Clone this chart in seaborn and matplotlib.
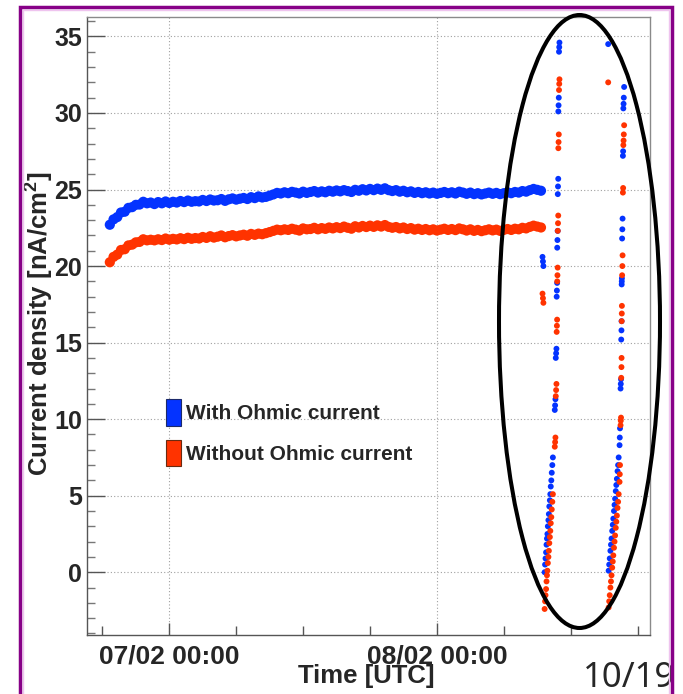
import numpy as np
import pandas as pd
import matplotlib
matplotlib.use("Agg")
import matplotlib.pyplot as plt
import matplotlib.dates as mdates
from matplotlib.ticker import MultipleLocator
from matplotlib.patches import Ellipse, Patch
from matplotlib.lines import Line2D
import seaborn as sns

# ---------------------------------------------------------------- data
SERIES = ["With Ohmic current", "Without Ohmic current"]
COLORS = ["#0433ff", "#ff3300"]
T0 = pd.Timestamp("2016-02-07 00:00")

# steady operation, one reading every 20 minutes from 06/02 18:40
steady_with = [
    22.70, 23.05, 23.20, 23.50, 23.55, 23.80, 23.85, 24.00, 24.02, 24.20, 24.10, 24.15,
    24.05, 24.18, 24.10, 24.22, 24.12, 24.20, 24.15, 24.25, 24.18, 24.28, 24.20, 24.24,
    24.22, 24.32, 24.25, 24.35, 24.28, 24.30, 24.38, 24.26, 24.36, 24.42, 24.34, 24.40,
    24.45, 24.38, 24.50, 24.44, 24.55, 24.48, 24.52, 24.60, 24.68, 24.78, 24.74, 24.82,
    24.76, 24.85, 24.80, 24.74, 24.86, 24.78, 24.84, 24.90, 24.80, 24.88, 24.82, 24.92,
    24.86, 24.94, 24.88, 24.96, 24.90, 24.84, 24.98, 24.92, 25.02, 24.94, 25.04, 24.96,
    25.06, 24.98, 25.08, 24.96, 24.90, 24.96, 24.86, 24.92, 24.82, 24.88, 24.78, 24.84,
    24.76, 24.82, 24.74, 24.80, 24.72, 24.78, 24.84, 24.76, 24.82, 24.74, 24.86, 24.80,
    24.72, 24.80, 24.70, 24.76, 24.68, 24.74, 24.80, 24.72, 24.78, 24.70, 24.76, 24.82,
    24.76, 24.84, 24.80, 24.90, 24.86, 24.96, 25.04, 24.98, 24.92,
]
steady_without = [
    20.25, 20.60, 20.75, 21.05, 21.10, 21.35, 21.40, 21.55, 21.58, 21.75, 21.68, 21.72,
    21.68, 21.75, 21.70, 21.80, 21.72, 21.78, 21.74, 21.82, 21.76, 21.85, 21.78, 21.83,
    21.80, 21.90, 21.84, 21.95, 21.86, 21.92, 22.00, 21.88, 21.96, 22.02, 21.94, 22.00,
    22.05, 21.98, 22.10, 22.04, 22.12, 22.08, 22.15, 22.22, 22.30, 22.38, 22.34, 22.40,
    22.36, 22.44, 22.38, 22.32, 22.46, 22.40, 22.42, 22.50, 22.40, 22.48, 22.43, 22.52,
    22.46, 22.54, 22.48, 22.58, 22.50, 22.44, 22.60, 22.52, 22.62, 22.55, 22.64, 22.56,
    22.66, 22.58, 22.68, 22.56, 22.50, 22.55, 22.46, 22.52, 22.42, 22.48, 22.38, 22.44,
    22.36, 22.42, 22.34, 22.40, 22.32, 22.38, 22.44, 22.36, 22.42, 22.35, 22.46, 22.40,
    22.32, 22.40, 22.30, 22.36, 22.28, 22.34, 22.40, 22.33, 22.38, 22.30, 22.36, 22.42,
    22.36, 22.44, 22.40, 22.50, 22.46, 22.56, 22.64, 22.58, 22.52,
]

# trip and high-voltage ramps (hours after 07/02 00:00)
trip_hours = [33.47, 33.51, 33.55]
trip_with = [20.6, 20.3, 20.0]
trip_without = [18.2, 17.9, 17.6]

ramp1_hours = [33.66, 33.70, 33.74, 33.79, 33.83, 33.87, 33.91, 33.95, 34.00,
               34.04, 34.08, 34.13, 34.17, 34.21, 34.26, 34.30, 34.35, 34.40,
               34.57, 34.60, 34.63, 34.66, 34.69, 34.72, 34.74, 34.76, 34.78,
               34.79, 34.81, 34.83, 34.84, 34.86, 34.88, 34.89, 34.91, 34.93,
               34.95, 34.97, 34.99]
ramp1_with = [0.0, 0.5, 0.9, 1.3, 1.8, 2.2, 2.5, 3.0, 3.4,
              3.8, 4.3, 4.7, 5.1, 5.6, 6.0, 6.5, 7.0, 7.5,
              10.6, 10.9, 11.3, 14.0, 14.3, 14.6, 18.0, 18.4, 18.9,
              21.2, 21.7, 22.3, 24.7, 25.2, 25.7, 30.1, 30.5, 31.0,
              34.0, 34.3, 34.6]
ramp1_without = [-2.4, -1.9, -1.5, -1.1, -0.6, -0.2, 0.1, 0.6, 1.0,
                 1.4, 1.9, 2.3, 2.7, 3.2, 3.6, 4.1, 4.6, 5.1,
                 8.2, 8.5, 8.8, 11.5, 11.9, 12.3, 15.7, 16.1, 16.5,
                 19.0, 19.4, 19.9, 22.3, 22.8, 23.3, 27.7, 28.1, 28.6,
                 31.5, 31.9, 32.2]

ramp2_hours = [39.36, 39.40, 39.45, 39.50, 39.56, 39.61, 39.66, 39.72, 39.77, 39.82,
               39.88, 39.93, 39.98, 40.04, 40.09, 40.14, 40.20, 40.25, 40.30,
               40.38, 40.40, 40.42, 40.47, 40.49, 40.51, 40.53, 40.55, 40.56,
               40.57, 40.58, 40.59, 40.61, 40.63, 40.65, 40.68, 40.70,
               40.72, 40.74, 40.76, 40.79]
ramp2_with = [34.5, 0.1, 0.5, 0.9, 1.4, 1.8, 2.2, 2.7, 3.1, 3.5,
              4.0, 4.4, 4.8, 5.3, 5.7, 6.1, 6.6, 7.0, 7.5,
              8.3, 8.8, 9.4, 12.0, 12.3, 12.6, 15.2, 15.8, 16.4,
              18.8, 19.0, 19.2, 21.8, 22.4, 23.1, 27.2, 27.5,
              30.3, 30.6, 31.0, 31.7]
ramp2_without = [32.0, -2.3, -1.9, -1.5, -1.0, -0.6, -0.2, 0.3, 0.7, 1.1,
                 1.6, 2.0, 2.4, 2.9, 3.3, 3.7, 4.2, 4.6, 5.1,
                 5.9, 6.4, 7.0, 9.6, 9.9, 10.1, 12.7, 13.4, 14.0,
                 16.4, 16.9, 17.4, 19.4, 20.0, 20.7, 24.8, 25.1,
                 27.9, 28.2, 28.6, 29.2]

X_TICK_FMT = "%d/%m %H:%M"
X_LABEL = "Time [UTC]"
Y_LABEL = "Current density [nA/cm$^{2}$]"
PAGE = "10/19"


def frame(times, with_vals, without_vals):
    a = pd.DataFrame({"time": times, "density": with_vals, "series": SERIES[0]})
    b = pd.DataFrame({"time": times, "density": without_vals, "series": SERIES[1]})
    return pd.concat([a, b], ignore_index=True)


steady_time = pd.date_range("2016-02-06 18:40", periods=len(steady_with), freq="20min")
steady = frame(steady_time, steady_with, steady_without)

tr_hours = trip_hours + ramp1_hours + ramp2_hours
tr_with = trip_with + ramp1_with + ramp2_with
tr_without = trip_without + ramp1_without + ramp2_without
tr_time = T0 + pd.to_timedelta(tr_hours, unit="h")
transient = frame(tr_time, tr_with, tr_without)

# ---------------------------------------------------------------- style
sns.set_style("white")
plt.rcParams["font.family"] = ["Liberation Sans", "DejaVu Sans"]
plt.rcParams["font.weight"] = "bold"
plt.rcParams["mathtext.fontset"] = "custom"
plt.rcParams["mathtext.rm"] = "Liberation Sans:bold"
plt.rcParams["mathtext.it"] = "Liberation Sans:bold"
plt.rcParams["mathtext.bf"] = "Liberation Sans:bold"

W, H = 683, 694
fig = plt.figure(figsize=(W / 100, H / 100), dpi=100)
fig.patch.set_facecolor("white")
ax = fig.add_axes([87 / W, 1 - 635 / H, (650 - 87) / W, (635 - 17) / H])

palette = dict(zip(SERIES, COLORS))
sns.scatterplot(data=steady, x="time", y="density", hue="series", hue_order=SERIES,
                palette=palette, s=54, linewidth=0, legend=False, ax=ax, zorder=3)
sns.scatterplot(data=transient, x="time", y="density", hue="series", hue_order=SERIES,
                palette=palette, s=18, linewidth=0, legend=False, ax=ax, zorder=3)

ax.set_xlim(T0 + pd.Timedelta(hours=-7.38), T0 + pd.Timedelta(hours=43.11))
ax.set_ylim(-4.10, 36.27)

ax.xaxis.set_major_locator(mdates.HourLocator(byhour=[0]))
ax.xaxis.set_minor_locator(mdates.HourLocator(byhour=[0, 6, 12, 18]))
ax.xaxis.set_major_formatter(mdates.DateFormatter(X_TICK_FMT))
ax.yaxis.set_major_locator(MultipleLocator(5))
ax.yaxis.set_minor_locator(MultipleLocator(1))

tick_col = "#555555"
ax.tick_params(axis="y", which="major", direction="in", length=13, width=1.0,
               color=tick_col, labelsize=18, pad=3.4, left=True, right=False)
ax.tick_params(axis="y", which="minor", direction="in", length=6, width=1.0,
               color="#777777", left=True, right=False)
ax.tick_params(axis="x", which="major", direction="in", length=8.5, width=1.0,
               color=tick_col, labelsize=19, pad=6.6, bottom=True, top=False)
ax.tick_params(axis="x", which="minor", direction="in", length=6.5, width=1.0,
               color=tick_col, bottom=True, top=False)
for lab in ax.get_xticklabels() + ax.get_yticklabels():
    lab.set_fontweight("bold")

ax.grid(True, which="major", linestyle=(0, (1, 2)), color="#a0a0a0", linewidth=0.8)
ax.set_axisbelow(True)
for side, sp in ax.spines.items():
    sp.set_linewidth(1.0)
    sp.set_color("#555555" if side in ("left", "bottom") else "#8a8a8a")

ax.set_xlabel("")
ax.set_ylabel("")
fig.text(366.5 / W, 1 - 683 / H, X_LABEL, ha="center", va="baseline",
         fontsize=18.5, fontweight="bold")
fig.text(40 / W, 1 - 324 / H, Y_LABEL, ha="center", va="center", rotation=90,
         fontsize=18.5, fontweight="bold")

# legend with tall colour boxes
fs = 15
px = fs * 100 / 72
handles = [Patch(facecolor=COLORS[0], edgecolor="#1c2a6a", linewidth=0.8, label=SERIES[0]),
           Patch(facecolor=COLORS[1], edgecolor="#6a2a10", linewidth=0.8, label=SERIES[1])]
fig.legend(handles=handles, loc="upper left", bbox_to_anchor=(166 / W, 1 - 399 / H),
           frameon=False, prop={"weight": "bold", "size": fs},
           handlelength=15 / px, handleheight=33 / px, handletextpad=5 / px,
           labelspacing=(47 - 33) / px, borderpad=0, borderaxespad=0)

# highlight of the ramp-up region
fig.add_artist(Ellipse((579.5 / W, 1 - 321.5 / H), 161 / W, 613 / H,
                       transform=fig.transFigure, fill=False, edgecolor="black",
                       linewidth=2.9, zorder=10))

# slide frame and page number
fig.text(583 / W, 1 - 687 / H, PAGE, ha="left", va="baseline", fontsize=25,
         fontweight="normal", family=["Noto Sans", "DejaVu Sans"], zorder=4)
fig.add_artist(Line2D([22.8 / W, 22.8 / W, 669.2 / W, 669.2 / W],
                      [-0.02, 1 - 10 / H, 1 - 10 / H, -0.02],
                      transform=fig.transFigure, color="#efc4ef", linewidth=1.0,
                      solid_joinstyle="miter", zorder=5))
fig.add_artist(Line2D([20 / W, 20 / W, 672 / W, 672 / W],
                      [-0.02, 1 - 7.3 / H, 1 - 7.3 / H, -0.02],
                      transform=fig.transFigure, color="#870087", linewidth=2.5,
                      solid_joinstyle="miter", zorder=6))

fig.savefig("out.png", dpi=100, facecolor="white")
